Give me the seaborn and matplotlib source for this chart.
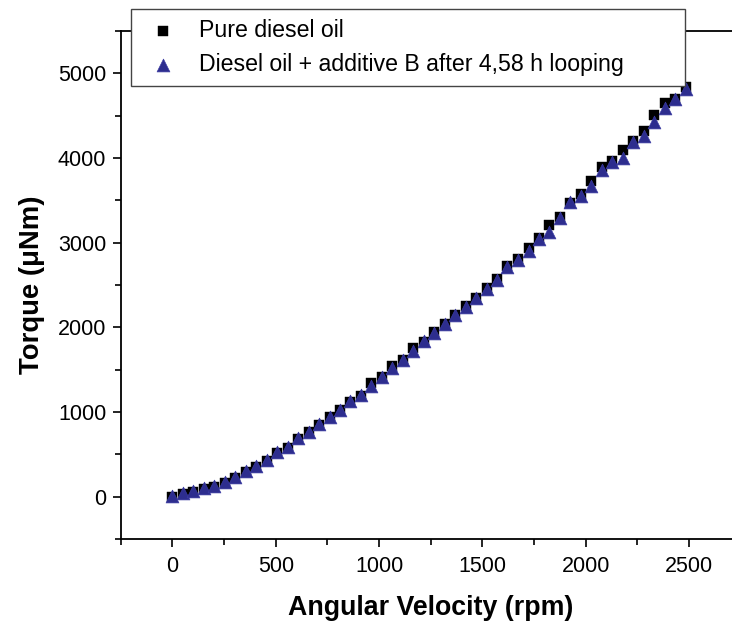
import matplotlib
matplotlib.use("Agg")
import matplotlib.pyplot as plt
from matplotlib.ticker import MultipleLocator
import seaborn as sns

# angular velocity steps (rpm)
rpm = [0, 51, 101, 152, 203, 253, 304, 355, 405, 456,
       507, 557, 608, 659, 709, 760, 811, 861, 912, 963,
       1013, 1064, 1115, 1165, 1216, 1267, 1317, 1368, 1419, 1469,
       1520, 1571, 1621, 1672, 1723, 1773, 1824, 1875, 1925, 1976,
       2027, 2077, 2128, 2179, 2229, 2280, 2331, 2381, 2432, 2483]

# torque (uNm) - pure diesel oil
torque_pure = [0, 32, 52, 92, 118, 160, 225, 290, 356, 427,
               512, 580, 680, 760, 845, 936, 1020, 1115, 1190, 1340,
               1415, 1545, 1612, 1750, 1830, 1940, 2045, 2150, 2250, 2350,
               2460, 2570, 2730, 2810, 2942, 3050, 3214, 3300, 3473, 3570,
               3726, 3895, 3960, 4093, 4203, 4321, 4507, 4645, 4700, 4834]

# torque (uNm) - diesel oil + additive B after 4,58 h looping
torque_add = [10, 44, 63, 103, 130, 170, 236, 300, 367, 437,
              524, 591, 690, 769, 855, 946, 1029, 1124, 1195, 1309,
              1419, 1522, 1612, 1723, 1833, 1936, 2038, 2140, 2243, 2346,
              2457, 2555, 2712, 2792, 2898, 3040, 3126, 3297, 3481, 3549,
              3667, 3864, 3954, 4002, 4184, 4258, 4427, 4586, 4692, 4811]

label_pure = "Pure diesel oil"
label_add = "Diesel oil + additive B after 4,58 h looping"

sns.set_style("ticks")
plt.rcParams['font.family'] = ['Liberation Sans', 'DejaVu Sans']
plt.rcParams['axes.linewidth'] = 1.3
plt.rcParams['text.color'] = 'black'
plt.rcParams['axes.labelcolor'] = 'black'

fig = plt.figure(figsize=(7.32, 6.26), dpi=100)
# axes run past the right edge like the original (right spine cut off)
ax = fig.add_axes([0.165, 0.139, 0.847, 0.8115])

sns.scatterplot(x=rpm, y=torque_pure, marker='s', s=52, color='black',
                edgecolor='black', linewidth=0.3, label=label_pure, ax=ax, zorder=3)
sns.scatterplot(x=rpm, y=torque_add, marker='^', s=85, color='#2d2d8e',
                edgecolor='#3b3ba3', linewidth=0.5, label=label_add, ax=ax, zorder=4)

ax.set_xlim(-250, 2750)
ax.set_ylim(-500, 5500)
ax.xaxis.set_major_locator(MultipleLocator(500))
ax.xaxis.set_minor_locator(MultipleLocator(250))
ax.yaxis.set_major_locator(MultipleLocator(1000))
ax.yaxis.set_minor_locator(MultipleLocator(500))
ax.tick_params(which='major', direction='out', length=5.5, width=1.2,
               labelsize=15.5, pad=5, colors='black')
ax.tick_params(axis='x', which='major', pad=7)
ax.tick_params(which='minor', direction='out', length=4, width=1.2, colors='black')
ax.set_xticks([0, 500, 1000, 1500, 2000, 2500])

ax.set_xlabel("Angular Velocity (rpm)", fontsize=19.3, fontweight='bold', labelpad=13)
ax.set_ylabel("Torque (\u03bcNm)", fontsize=19.8, fontweight='bold', labelpad=9)
for sp in ax.spines.values():
    sp.set_color('black')

sns.despine(ax=ax, top=False, right=False)

leg = ax.legend(loc='upper left', bbox_to_anchor=(0.1796, 0.8634, 0.7558, 0.1222),
                bbox_transform=fig.transFigure, mode='expand', frameon=True,
                fancybox=False, framealpha=1, edgecolor='#444444',
                borderaxespad=0, borderpad=0.42, handlelength=1.85,
                handletextpad=0.65, labelspacing=0.5, fontsize=16.7)
leg.get_frame().set_linewidth(1.0)
leg.set_zorder(10)

fig.savefig("out.png", dpi=100)
